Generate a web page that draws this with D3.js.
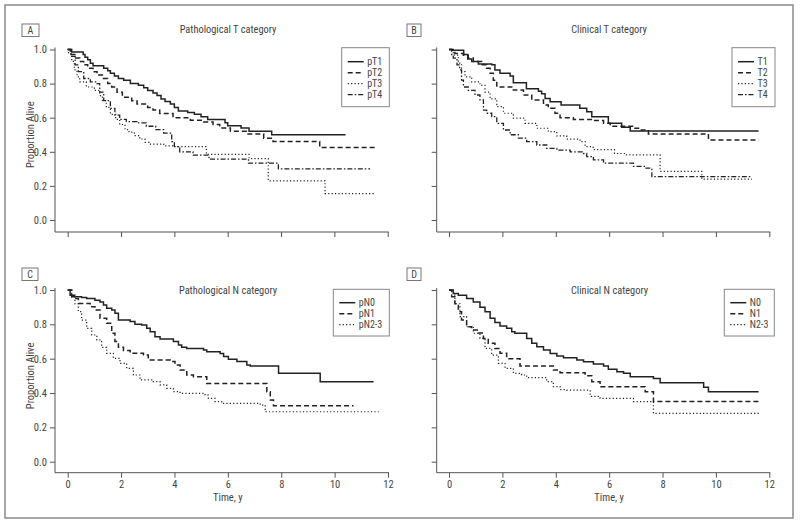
<!DOCTYPE html>
<html><head><meta charset="utf-8">
<script src="https://cdn.jsdelivr.net/npm/d3@7/dist/d3.min.js"></script>
<style>
body{margin:0;background:#fff;}
text{font-family:"Liberation Sans Narrow","Roboto Condensed","Arial Narrow","Liberation Sans",sans-serif;fill:#444;}
</style></head>
<body><svg id="c" width="800" height="525"></svg>
<script>
// ---- Data (time in years, proportion alive) ----
const xTicks = [0,2,4,6,8,10,12];
const yTicks = [0.0,0.2,0.4,0.6,0.8,1.0];

const pT1 = [[0,1],[0.15,0.985],[0.58,0.97],[0.65,0.955],[0.75,0.94],[0.85,0.92],[0.95,0.905],[1.35,0.89],[1.5,0.875],[1.6,0.86],[1.75,0.845],[1.9,0.83],[2.1,0.82],[2.35,0.80],[2.65,0.79],[2.85,0.775],[3.0,0.76],[3.2,0.745],[3.35,0.73],[3.5,0.71],[3.65,0.695],[3.85,0.68],[4.0,0.66],[4.15,0.64],[4.5,0.63],[4.75,0.62],[5.0,0.605],[5.25,0.59],[5.9,0.57],[6.0,0.553],[6.5,0.54],[6.8,0.52],[7.65,0.50],[10.42,0.50]];
const pT2 = [[0,1],[0.1,0.97],[0.3,0.95],[0.45,0.93],[0.6,0.91],[0.75,0.89],[0.95,0.87],[1.1,0.85],[1.3,0.83],[1.5,0.8],[1.65,0.78],[1.85,0.75],[2.05,0.72],[2.4,0.70],[2.6,0.68],[3.0,0.66],[3.2,0.645],[3.45,0.625],[3.95,0.60],[4.6,0.585],[5.1,0.575],[5.45,0.56],[5.7,0.54],[6.1,0.52],[6.7,0.505],[7.35,0.48],[7.7,0.46],[9.45,0.425],[11.6,0.425]];
const pT3 = [[0,1],[0.03,0.975],[0.15,0.93],[0.25,0.88],[0.35,0.84],[0.45,0.81],[0.7,0.78],[1.0,0.76],[1.2,0.73],[1.3,0.70],[1.45,0.66],[1.6,0.62],[1.8,0.59],[1.95,0.56],[2.15,0.53],[2.3,0.515],[2.5,0.495],[2.7,0.475],[2.9,0.455],[3.05,0.445],[3.6,0.435],[3.95,0.43],[5.2,0.385],[6.8,0.36],[7.52,0.23],[9.65,0.155],[11.52,0.155]];
const pT4 = [[0,1],[0.12,0.96],[0.28,0.91],[0.4,0.87],[0.6,0.83],[0.85,0.81],[1.1,0.80],[1.2,0.75],[1.35,0.70],[1.6,0.655],[1.77,0.615],[1.95,0.59],[2.2,0.577],[2.6,0.57],[2.95,0.55],[3.3,0.53],[3.6,0.51],[3.9,0.46],[4.0,0.43],[4.2,0.40],[4.7,0.38],[5.3,0.357],[6.78,0.333],[7.9,0.30],[11.34,0.30]];

const T1 = [[0,1],[0.1,0.995],[0.55,0.97],[0.7,0.945],[0.85,0.93],[1.1,0.915],[1.6,0.91],[1.72,0.88],[1.91,0.86],[2.29,0.845],[2.41,0.805],[2.9,0.77],[3.35,0.755],[3.47,0.74],[3.6,0.713],[3.79,0.694],[4.2,0.674],[4.9,0.655],[5.16,0.635],[5.35,0.605],[5.97,0.567],[6.47,0.544],[6.79,0.522],[11.6,0.522]];
const T2 = [[0,1],[0.22,0.976],[0.54,0.967],[0.72,0.95],[0.91,0.93],[1.22,0.91],[1.41,0.89],[1.54,0.86],[1.66,0.82],[1.79,0.78],[2.41,0.762],[2.79,0.733],[3.1,0.704],[3.54,0.674],[3.72,0.655],[3.97,0.626],[4.16,0.60],[4.66,0.59],[5.41,0.583],[5.79,0.567],[6.04,0.55],[6.91,0.538],[7.16,0.528],[7.47,0.505],[9.72,0.469],[11.6,0.469]];
const T3 = [[0,1],[0.16,0.967],[0.35,0.92],[0.47,0.87],[0.6,0.84],[0.85,0.81],[1.16,0.79],[1.35,0.75],[1.54,0.71],[1.79,0.665],[2.04,0.626],[2.41,0.597],[2.85,0.567],[3.29,0.538],[3.72,0.518],[4.04,0.493],[4.41,0.474],[4.91,0.46],[5.1,0.43],[5.4,0.413],[6.2,0.39],[6.6,0.382],[7.91,0.285],[9.47,0.24],[11.35,0.24]];
const T4 = [[0,1],[0.1,0.97],[0.16,0.95],[0.3,0.91],[0.4,0.88],[0.47,0.82],[0.54,0.78],[0.72,0.76],[0.975,0.733],[1.16,0.704],[1.29,0.645],[1.41,0.626],[1.6,0.606],[1.79,0.567],[2.04,0.528],[2.29,0.50],[2.6,0.48],[2.91,0.46],[3.29,0.44],[3.66,0.42],[4.04,0.41],[4.54,0.40],[5.04,0.39],[5.16,0.372],[5.41,0.353],[5.79,0.333],[6.91,0.314],[7.35,0.304],[7.6,0.254],[11.36,0.254]];

const pN0 = [[0,1],[0.09,0.97],[0.15,0.96],[0.52,0.957],[0.71,0.95],[1.02,0.94],[1.21,0.93],[1.34,0.913],[1.46,0.893],[1.65,0.883],[1.77,0.864],[1.9,0.825],[2.34,0.816],[2.52,0.80],[2.77,0.796],[2.96,0.777],[3.09,0.757],[3.27,0.728],[3.46,0.715],[3.96,0.70],[4.15,0.68],[4.27,0.667],[4.46,0.66],[5.09,0.65],[5.21,0.64],[5.71,0.63],[5.84,0.612],[6.02,0.596],[6.34,0.583],[6.71,0.563],[6.84,0.557],[7.9,0.515],[9.46,0.466],[11.46,0.466]];
const pN1 = [[0,1],[0.15,0.97],[0.27,0.95],[0.4,0.922],[0.84,0.903],[1.02,0.883],[1.21,0.835],[1.46,0.806],[1.65,0.748],[1.77,0.70],[1.9,0.666],[2.09,0.647],[2.34,0.631],[2.84,0.621],[3.02,0.592],[3.84,0.583],[4.02,0.563],[4.21,0.534],[4.46,0.505],[4.71,0.495],[5.21,0.456],[7.46,0.408],[7.59,0.359],[7.71,0.326],[10.71,0.326]];
const pN23 = [[0,1],[0.15,0.96],[0.27,0.92],[0.4,0.874],[0.52,0.825],[0.71,0.777],[0.9,0.738],[1.09,0.709],[1.27,0.666],[1.46,0.631],[1.71,0.602],[1.96,0.573],[2.21,0.544],[2.46,0.505],[2.71,0.476],[3.21,0.466],[3.46,0.447],[3.71,0.427],[3.96,0.408],[4.21,0.398],[5.15,0.388],[5.27,0.369],[5.52,0.35],[5.77,0.34],[7.21,0.33],[7.4,0.291],[11.65,0.291]];

const N0 = [[0,1],[0.16,0.98],[0.35,0.97],[0.66,0.95],[0.91,0.93],[1.16,0.90],[1.35,0.874],[1.54,0.835],[1.72,0.81],[1.91,0.79],[2.16,0.777],[2.35,0.757],[2.47,0.748],[2.91,0.718],[3.1,0.69],[3.29,0.67],[3.54,0.65],[3.79,0.63],[4.04,0.615],[4.29,0.605],[4.79,0.592],[5.04,0.582],[5.41,0.569],[5.79,0.557],[5.97,0.538],[6.29,0.524],[6.54,0.515],[6.79,0.495],[7.66,0.485],[7.91,0.46],[9.54,0.433],[9.72,0.408],[11.6,0.408]];
const N1 = [[0,1],[0.1,0.96],[0.22,0.92],[0.35,0.874],[0.47,0.825],[0.66,0.786],[0.85,0.767],[1.1,0.75],[1.29,0.718],[1.47,0.69],[1.72,0.66],[1.91,0.631],[2.16,0.60],[2.66,0.557],[3.91,0.534],[4.16,0.518],[5.1,0.50],[5.35,0.466],[5.66,0.437],[7.35,0.408],[7.66,0.35],[11.6,0.35]];
const N23 = [[0,1],[0.1,0.97],[0.22,0.92],[0.41,0.845],[0.66,0.786],[0.91,0.748],[1.16,0.718],[1.35,0.66],[1.6,0.621],[1.85,0.573],[2.1,0.544],[2.41,0.515],[2.72,0.505],[2.91,0.49],[3.66,0.466],[3.91,0.437],[4.16,0.42],[4.41,0.417],[5.29,0.381],[5.66,0.369],[6.91,0.35],[7.66,0.282],[11.66,0.282]];

const panelLabels = ["A","B","C","D"];
const panelTitles = ["Pathological T category","Clinical T category","Pathological N category","Clinical N category"];
const legendNames = [["pT1","pT2","pT3","pT4"],["T1","T2","T3","T4"],["pN0","pN1","pN2-3"],["N0","N1","N2-3"]];
const panelSeries = [[pT1,pT2,pT3,pT4],[T1,T2,T3,T4],[pN0,pN1,pN23],[N0,N1,N23]];

// ---- styles ----
const lineStyles = [
  {dash:null, w:1.5},
  {dash:"5,3", w:1.5},
  {dash:"1.2,2.2", w:1.2},
  {dash:"5,2,1.5,2", w:1.3}
];
const ink = "#222";

const svg = d3.select("#c");
svg.append("rect").attr("x",5).attr("y",5).attr("width",788).attr("height",513)
  .attr("fill","none").attr("stroke","#8a8a8a").attr("stroke-width",1.5);

const layouts = [
  {axX:55, x0:67.7, x1:387.7, yTop:49.5, yBot:220, axY:232, label:{x:22,y:24,w:17}, title:{x:228,y:33}, leg:{x:341.7,y:47.7,w:47.6,h:59,ly:61.7}, yLab:true, xLab:false},
  {axX:436.7, x0:449, x1:769.3, yTop:49.5, yBot:220, axY:232, label:{x:407,y:24,w:14}, title:{x:609,y:33}, leg:{x:732,y:47.7,w:43,h:59,ly:61.7}, yLab:false, xLab:false},
  {axX:55, x0:67.7, x1:388, yTop:290, yBot:461.7, axY:472.7, label:{x:22,y:268,w:16}, title:{x:228,y:294}, leg:{x:333.3,y:289.3,w:56,h:46.7,ly:302.7}, yLab:true, xLab:true},
  {axX:436.7, x0:449, x1:769.3, yTop:290, yBot:461.7, axY:472.7, label:{x:407,y:268,w:14}, title:{x:609.5,y:294}, leg:{x:724.3,y:289.3,w:50,h:46.7,ly:302.7}, yLab:false, xLab:true}
];

layouts.forEach((L,i)=>{
  const g = svg.append("g");
  const x = d3.scaleLinear().domain([0,12]).range([L.x0,L.x1]);
  const y = d3.scaleLinear().domain([0,1]).range([L.yBot,L.yTop]);

  // y axis
  const ya = g.append("g").attr("transform",`translate(${L.axX},0)`)
    .call(d3.axisLeft(y).tickValues(yTicks).tickSize(5).tickPadding(3)
      .tickFormat(L.yLab ? d3.format(".1f") : ""));
  ya.select(".domain").attr("d",`M0,${L.yTop-2}V${L.axY}`);
  // x axis
  const xa = g.append("g").attr("transform",`translate(0,${L.axY})`)
    .call(d3.axisBottom(x).tickValues(xTicks).tickSize(5).tickPadding(3)
      .tickFormat(L.xLab ? d3.format("d") : ""));
  xa.select(".domain").attr("d",`M${L.axX},0H${L.x1+1}`);
  [ya,xa].forEach(a=>{
    a.selectAll(".domain,line").attr("stroke","#555").attr("stroke-width",1);
    a.selectAll("text").style("font-size","10.5px").attr("fill","#444");
  });

  if(L.yLab){
    g.append("text").attr("transform",`translate(34,${(L.yTop+L.yBot)/2}) rotate(-90)`)
      .attr("text-anchor","middle").style("font-size","10.5px").text("Proportion Alive");
  }
  if(L.xLab){
    g.append("text").attr("x",(L.x0+L.x1)/2).attr("y",L.axY+28)
      .attr("text-anchor","middle").style("font-size","10.5px").text("Time, y");
  }

  // panel label
  g.append("rect").attr("x",L.label.x).attr("y",L.label.y).attr("width",L.label.w).attr("height",12.5)
    .attr("fill","#fff").attr("stroke","#777").attr("stroke-width",1);
  g.append("text").attr("x",L.label.x+L.label.w/2).attr("y",L.label.y+10)
    .attr("text-anchor","middle").style("font-size","10px").text(panelLabels[i]);

  // title
  g.append("text").attr("x",L.title.x).attr("y",L.title.y).attr("text-anchor","middle")
    .style("font-size","10.4px").text(panelTitles[i]);

  // curves
  const line = d3.line().x(d=>x(d[0])).y(d=>y(d[1])).curve(d3.curveStepAfter);
  panelSeries[i].forEach((s,k)=>{
    const st = lineStyles[k];
    g.append("path").datum(s).attr("d",line).attr("fill","none")
      .attr("stroke",ink).attr("stroke-width",st.w)
      .attr("stroke-dasharray",st.dash);
  });

  // legend
  const lg = g.append("g");
  lg.append("rect").attr("x",L.leg.x).attr("y",L.leg.y).attr("width",L.leg.w).attr("height",L.leg.h)
    .attr("fill","#fff").attr("stroke","#888").attr("stroke-width",1);
  legendNames[i].forEach((n,k)=>{
    const st = lineStyles[k];
    const yy = L.leg.ly + k*11;
    lg.append("line").attr("x1",L.leg.x+6).attr("x2",L.leg.x+22).attr("y1",yy).attr("y2",yy)
      .attr("stroke",ink).attr("stroke-width",st.w).attr("stroke-dasharray",st.dash);
    lg.append("text").attr("x",L.leg.x+25.5).attr("y",yy+3.6).style("font-size","10px").text(n);
  });
});
</script></body></html>
